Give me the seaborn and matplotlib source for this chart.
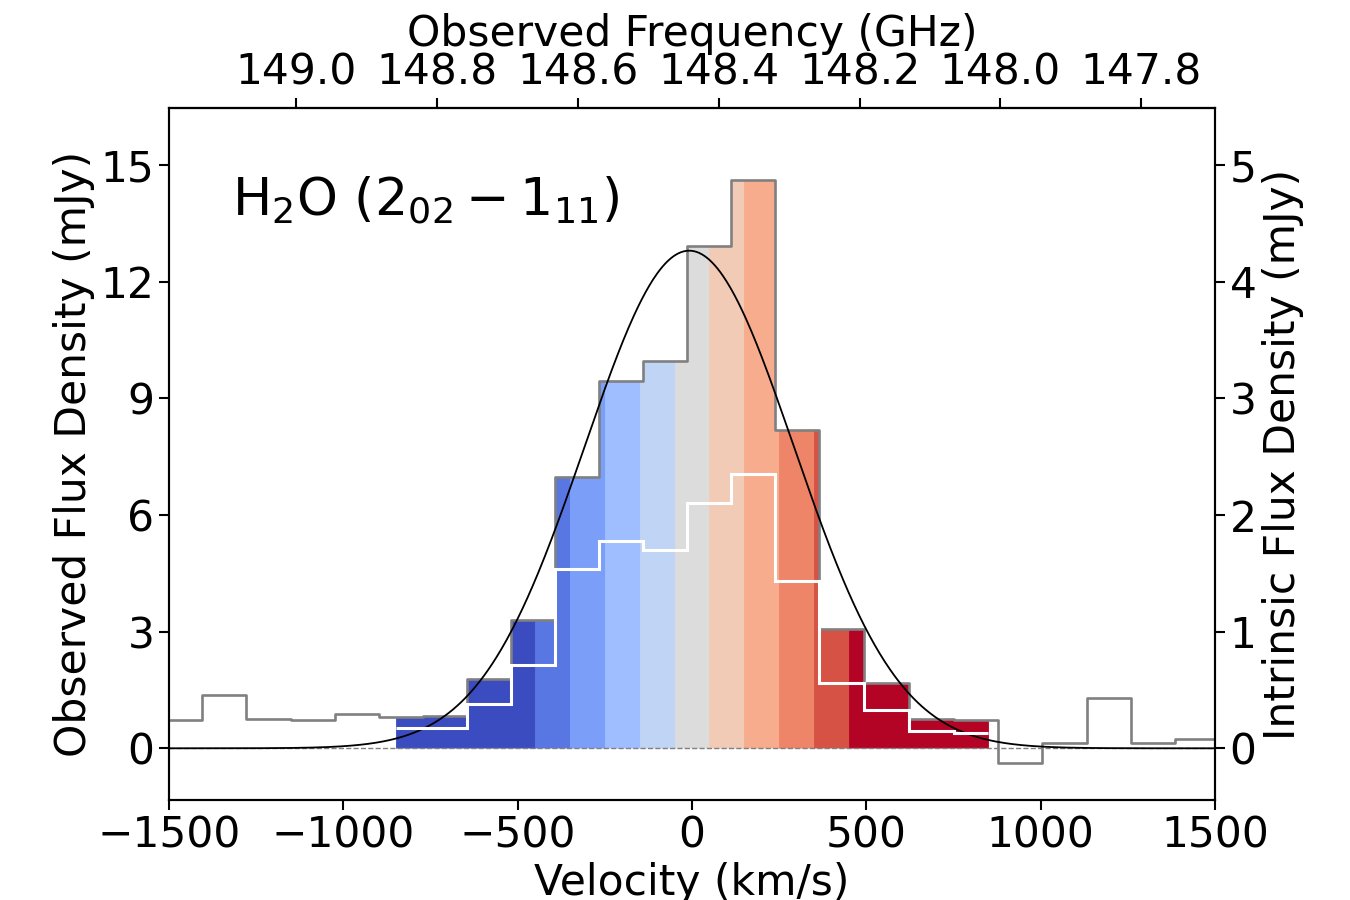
import numpy as np
import pandas as pd
import matplotlib
matplotlib.use("Agg")
import matplotlib.pyplot as plt
import seaborn as sns

## channel edges of the spectrum (km/s) and flux per channel
chan_edges = [-1532, -1405, -1278, -1151, -1024, -897, -771, -645, -519, -394,
              -267, -141, -15, 111, 237, 365, 494, 622, 750, 877, 1004, 1132,
              1259, 1386, 1513]
obs_flux = [0.72, 1.36, 0.755, 0.72, 0.89, 0.80, 0.82, 1.77, 3.31, 6.98, 9.45,
            9.95, 12.93, 14.61, 8.18, 3.08, 1.68, 0.75, 0.74, -0.39, 0.14, 1.29,
            0.14, 0.24]

## intrinsic (lensing corrected) flux, channels 5..18 only
intr_first, intr_last = 5, 18
intr_flux = [0.17, 0.17, 0.383, 0.712, 1.535, 1.776, 1.704, 2.107, 2.35, 1.435,
             0.56, 0.326, 0.15, 0.135]

## velocity slices used for the colour bands
band_edges = [-850, -450, -350, -250, -150, -50, 50, 150, 250, 350, 450, 850]

## gaussian fit: amplitude (mJy), centre, sigma (km/s)
g_amp, g_cen, g_sig = 12.8, -8.0, 300.0

nu0 = 148.438  # GHz, line centre
c_kms = 299792.458
freq_ticks = [149.0, 148.8, 148.6, 148.4, 148.2, 148.0, 147.8]
yticks_left = [0, 3, 6, 9, 12, 15]
yticks_right = [0, 1, 2, 3, 4, 5]

sns.set_style("ticks", {"axes.edgecolor": "black", "xtick.color": "black",
                        "ytick.color": "black", "text.color": "black",
                        "axes.labelcolor": "black"})
plt.rcParams['font.family'] = ['DejaVu Sans']
plt.rcParams['axes.linewidth'] = 1.5

fs = 30.5
edges = np.array(chan_edges, dtype=float)
centers = 0.5 * (edges[1:] + edges[:-1])
flux = np.array(obs_flux)
spec = pd.DataFrame({'vel': centers, 'flux': flux})

fig = plt.figure(figsize=(13.5, 9), dpi=100)
ax = fig.add_axes([0.1252, 0.1111, 0.7748, 0.7689])

# coloured velocity slices under the observed spectrum
cols = plt.get_cmap('coolwarm')(np.linspace(0, 1, len(band_edges) - 1))
for i in range(len(band_edges) - 1):
    lo, hi = band_edges[i], band_edges[i + 1]
    e = np.unique(np.clip(edges, lo, hi))
    mids = 0.5 * (e[1:] + e[:-1])
    idx = np.searchsorted(edges, mids) - 1
    ax.stairs(flux[idx], e, baseline=0, fill=True, facecolor=cols[i],
              edgecolor=cols[i], lw=0.6, zorder=1)

ax.axhline(0, color='gray', ls='--', lw=1.0, zorder=1.5)

# observed spectrum
sns.histplot(data=spec, x='vel', weights='flux', bins=list(chan_edges),
             element='step', fill=False, color='gray', lw=1.9, ax=ax, zorder=3)

# gaussian fit
v_model = np.linspace(-1500, 1500, 800)
g_model = g_amp * np.exp(-0.5 * ((v_model - g_cen) / g_sig) ** 2)
sns.lineplot(x=v_model, y=g_model, color='black', lw=1.3, ax=ax, zorder=4)

ax.set_xlim(-1500, 1500)
ax.set_ylim(-1.33, 16.47)
ax.set_yticks(yticks_left)
ax.set_xticks([-1500, -1000, -500, 0, 500, 1000, 1500])
ax.set_xlabel('Velocity (km/s)', fontsize=fs)
ax.set_ylabel('Observed Flux Density (mJy)', fontsize=fs)
ax.tick_params(labelsize=fs, length=7, width=1.5)

ax.text(0.06, 0.845, r'H$_2$O ($2_{02}-1_{11}$)', transform=ax.transAxes,
        fontsize=37.5, va='baseline')

# intrinsic spectrum on the right axis
ax2 = ax.twinx()
ie = np.clip(edges[intr_first:intr_last + 2], band_edges[0], band_edges[-1])
ax2.stairs(intr_flux, ie, baseline=None, color='white', lw=2.2)
ylo, yhi = ax.get_ylim()
ax2.set_ylim(ylo / 3, yhi / 3)
ax2.set_yticks(yticks_right)
ax2.set_ylabel('Intrinsic Flux Density (mJy)', fontsize=fs)
ax2.tick_params(labelsize=fs, length=7, width=1.5)

# observed frequency on top
def v2nu(v):
    return nu0 * (1 - np.asarray(v) / c_kms)

def nu2v(nu):
    return c_kms * (1 - np.asarray(nu) / nu0)

sec = ax.secondary_xaxis('top', functions=(v2nu, nu2v))
sec.set_xticks(freq_ticks)
sec.set_xticklabels(['%.1f' % f for f in freq_ticks])
sec.tick_params(labelsize=fs, length=7, width=1.5)
sec.set_xlabel('Observed Frequency (GHz)', fontsize=fs)

fig.savefig('out.png', dpi=100)
